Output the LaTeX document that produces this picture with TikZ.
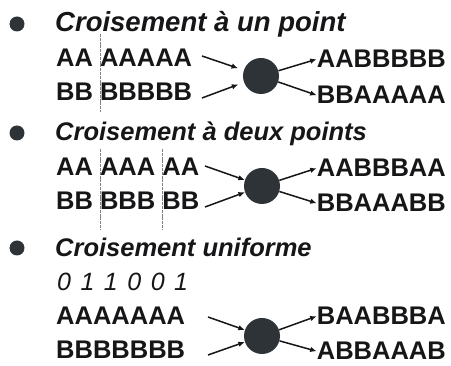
\documentclass[tikz,border=0pt]{standalone}
\usepackage{fontspec}
\setmainfont{Liberation Sans}
\usetikzlibrary{arrows.meta}
\definecolor{ink}{RGB}{22,22,24}
\definecolor{blob}{RGB}{46,51,56}
\definecolor{rule}{RGB}{130,130,130}
\begin{document}
\begin{tikzpicture}[x=1pt,y=-1pt,
  every node/.style={inner sep=0pt, text=ink},
  title/.style={anchor=base west, font=\fontsize{25.5}{26}\selectfont\bfseries\itshape},
  seq/.style={anchor=base west, font=\fontsize{25.5}{26}\selectfont\bfseries},
  mask/.style={anchor=base west, font=\fontsize{25}{26}\selectfont\itshape},
  res/.style={anchor=base east, font=\fontsize{25.5}{26}\selectfont\bfseries},
  bullet/.style={circle, fill=blob, minimum size=15pt},
  mixer/.style={circle, fill=blob, minimum size=36pt},
  flow/.style={draw=ink, line width=1.5pt, -{Latex[length=6.5pt,width=5.5pt]}},
  cut/.style={draw=rule, line width=1pt, dash pattern=on 3pt off 0.8pt}]
\useasboundingbox (0,0) rectangle (451,366);

% --- one-point crossover
\node[bullet] (b1) at (17,24) {};
\node[title, font=\fontsize{27.5}{28}\selectfont\bfseries\itshape] (t1) at (55,32) {Croisement à un point};
\node[seq] (a1) at (56,67) {AA AAAAA};
\node[seq] (s1) at (56,101) {BB BBBBB};
\node[mixer] (m1) at (261,76) {};
\node[res] (r1a) at (446,68) {AABBBBB};
\node[res] (r1b) at (446,104) {BBAAAAA};
\coordinate (c1t) at (100,34);
\coordinate (c1b) at (100,112);
\draw[cut] (c1t) -- (c1b);
\coordinate (p1a) at (202,56);
\coordinate (p1b) at (202,98);
\draw[flow, shorten >=6pt] (p1a) -- (m1);
\draw[flow, shorten >=6pt] (p1b) -- (m1);
\draw[flow] (m1) -- (r1a.west);
\draw[flow] (m1) -- (r1b.west);

% --- two-point crossover
\node[bullet] (b2) at (17,133) {};
\node[title] (t2) at (55,141) {Croisement à deux points};
\node[seq] (a2) at (56,176) {AA AAA AA};
\node[seq] (s2) at (56,210) {BB BBB BB};
\node[mixer] (m2) at (262,186) {};
\node[res] (r2a) at (446,177) {AABBBAA};
\node[res] (r2b) at (446,212) {BBAAABB};
\coordinate (c2t) at (100,149);
\coordinate (c2b) at (100,229);
\coordinate (c3t) at (162,149);
\coordinate (c3b) at (162,229);
\draw[cut] (c2t) -- (c2b);
\draw[cut] (c3t) -- (c3b);
\coordinate (p2a) at (205,166);
\coordinate (p2b) at (205,207);
\draw[flow] (p2a) -- (m2);
\draw[flow] (p2b) -- (m2);
\draw[flow] (m2) -- (r2a.west);
\draw[flow] (m2) -- (r2b.west);

% --- uniform crossover
\node[bullet] (b3) at (17,248) {};
\node[title] (t3) at (55,257) {Croisement uniforme};
\node[mask] (k3) at (57,291) {0\hspace{9.5pt}1\hspace{9.5pt}1\hspace{9.5pt}0\hspace{9.5pt}0\hspace{9.5pt}1};
\node[seq] (a3) at (56,325) {AAAAAAA};
\node[seq] (s3) at (56,359) {BBBBBBB};
\node[mixer] (m3) at (262,336) {};
\node[res] (r3a) at (446,325) {BAABBBA};
\node[res] (r3b) at (446,360) {ABBAAAB};
\coordinate (p3a) at (208,317);
\coordinate (p3b) at (208,355);
\draw[flow] (p3a) -- (m3);
\draw[flow] (p3b) -- (m3);
\draw[flow] (m3) -- (r3a.west);
\draw[flow] (m3) -- (r3b.west);
\end{tikzpicture}
\end{document}
